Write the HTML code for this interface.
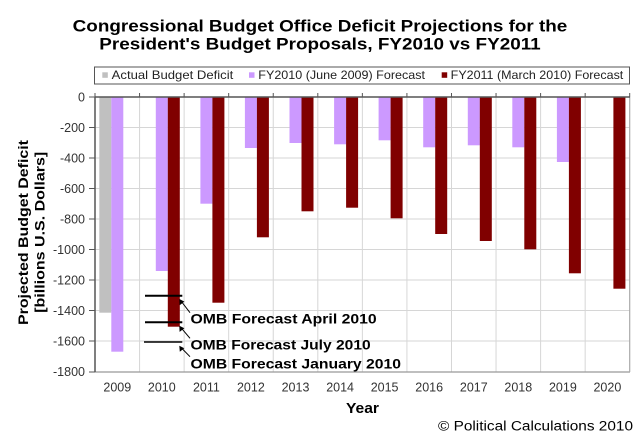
<!DOCTYPE html>
<html><head><meta charset="utf-8"><style>
html,body{margin:0;padding:0;background:#fff;}
svg{display:block;font-family:"Liberation Sans",sans-serif;}
</style></head><body>
<svg width="640" height="438" viewBox="0 0 640 438" xmlns="http://www.w3.org/2000/svg">
<rect width="640" height="438" fill="#fff"/>
<!-- Title -->
<text x="72.7" y="31.7" font-size="17" font-weight="bold" fill="#000" textLength="494.6" lengthAdjust="spacingAndGlyphs">Congressional Budget Office Deficit Projections for the</text>
<text x="99.3" y="49.5" font-size="17" font-weight="bold" fill="#000" textLength="441.4" lengthAdjust="spacingAndGlyphs">President's Budget Proposals, FY2010 vs FY2011</text>
<!-- Legend -->
<rect x="94.5" y="67" width="535" height="17" fill="#fff" stroke="#555" stroke-width="1"/>
<rect x="102.3" y="72.3" width="5.5" height="5.5" fill="#c0c0c0"/>
<text x="111.7" y="79" font-size="12" fill="#222" textLength="121.6" lengthAdjust="spacingAndGlyphs">Actual Budget Deficit</text>
<rect x="249" y="72.3" width="5.5" height="5.5" fill="#cc99ff"/>
<text x="258.3" y="79" font-size="12" fill="#222" textLength="166.7" lengthAdjust="spacingAndGlyphs">FY2010 (June 2009) Forecast</text>
<rect x="441.7" y="72.3" width="5.5" height="5.5" fill="#800000"/>
<text x="450.7" y="79" font-size="12" fill="#222" textLength="172.6" lengthAdjust="spacingAndGlyphs">FY2011 (March 2010) Forecast</text>
<!-- gridlines -->
<g stroke="#d6d6d6" stroke-width="1">
<line x1="95" y1="127.5" x2="630" y2="127.5"/>
<line x1="95" y1="158" x2="630" y2="158"/>
<line x1="95" y1="188.5" x2="630" y2="188.5"/>
<line x1="95" y1="219" x2="630" y2="219"/>
<line x1="95" y1="249.5" x2="630" y2="249.5"/>
<line x1="95" y1="280" x2="630" y2="280"/>
<line x1="95" y1="310.5" x2="630" y2="310.5"/>
<line x1="95" y1="341" x2="630" y2="341"/>
<line x1="139.56" y1="97" x2="139.56" y2="372"/>
<line x1="184.12" y1="97" x2="184.12" y2="372"/>
<line x1="228.68" y1="97" x2="228.68" y2="372"/>
<line x1="273.24" y1="97" x2="273.24" y2="372"/>
<line x1="317.8" y1="97" x2="317.8" y2="372"/>
<line x1="362.36" y1="97" x2="362.36" y2="372"/>
<line x1="406.92" y1="97" x2="406.92" y2="372"/>
<line x1="451.48" y1="97" x2="451.48" y2="372"/>
<line x1="496.04" y1="97" x2="496.04" y2="372"/>
<line x1="540.6" y1="97" x2="540.6" y2="372"/>
<line x1="585.16" y1="97" x2="585.16" y2="372"/>
</g>
<!-- plot border -->
<line x1="95" y1="372" x2="630" y2="372" stroke="#999" stroke-width="1.2"/>
<line x1="629.7" y1="97" x2="629.7" y2="372" stroke="#aaa" stroke-width="1.2"/>
<!-- bars -->
<g>
<rect x="99.3" y="97" width="12" height="215.7" fill="#c0c0c0"/>
<rect x="111.3" y="97" width="12" height="254.7" fill="#cc99ff"/>
<rect x="155.8" y="97" width="12" height="174" fill="#cc99ff"/>
<rect x="167.8" y="97" width="12" height="229.7" fill="#800000"/>
<rect x="200.4" y="97" width="12" height="106.7" fill="#cc99ff"/>
<rect x="212.4" y="97" width="12" height="205.7" fill="#800000"/>
<rect x="244.9" y="97" width="12" height="51" fill="#cc99ff"/>
<rect x="256.9" y="97" width="12" height="140.3" fill="#800000"/>
<rect x="289.5" y="97" width="12" height="46" fill="#cc99ff"/>
<rect x="301.5" y="97" width="12" height="114.3" fill="#800000"/>
<rect x="334.1" y="97" width="12" height="47.3" fill="#cc99ff"/>
<rect x="346.1" y="97" width="12" height="110.7" fill="#800000"/>
<rect x="378.6" y="97" width="12" height="43.3" fill="#cc99ff"/>
<rect x="390.6" y="97" width="12" height="121.3" fill="#800000"/>
<rect x="423.2" y="97" width="12" height="50.3" fill="#cc99ff"/>
<rect x="435.2" y="97" width="12" height="137" fill="#800000"/>
<rect x="467.8" y="97" width="12" height="48.3" fill="#cc99ff"/>
<rect x="479.8" y="97" width="12" height="144" fill="#800000"/>
<rect x="512.3" y="97" width="12" height="50.3" fill="#cc99ff"/>
<rect x="524.3" y="97" width="12" height="152.3" fill="#800000"/>
<rect x="556.9" y="97" width="12" height="65" fill="#cc99ff"/>
<rect x="568.9" y="97" width="12" height="176.3" fill="#800000"/>
<rect x="613.4" y="97" width="12" height="191.7" fill="#800000"/>
</g>
<!-- axes -->
<line x1="95" y1="97" x2="630" y2="97" stroke="#555" stroke-width="1.5"/>
<line x1="95" y1="97" x2="95" y2="372" stroke="#555" stroke-width="1.5"/>
<g stroke="#555" stroke-width="1">
<line x1="95" y1="93" x2="95" y2="97"/>
<line x1="139.56" y1="93" x2="139.56" y2="97"/>
<line x1="184.12" y1="93" x2="184.12" y2="97"/>
<line x1="228.68" y1="93" x2="228.68" y2="97"/>
<line x1="273.24" y1="93" x2="273.24" y2="97"/>
<line x1="317.8" y1="93" x2="317.8" y2="97"/>
<line x1="362.36" y1="93" x2="362.36" y2="97"/>
<line x1="406.92" y1="93" x2="406.92" y2="97"/>
<line x1="451.48" y1="93" x2="451.48" y2="97"/>
<line x1="496.04" y1="93" x2="496.04" y2="97"/>
<line x1="540.6" y1="93" x2="540.6" y2="97"/>
<line x1="585.16" y1="93" x2="585.16" y2="97"/>
<line x1="629.7" y1="93" x2="629.7" y2="97"/>
<line x1="89" y1="97" x2="95" y2="97"/>
<line x1="89" y1="127.5" x2="95" y2="127.5"/>
<line x1="89" y1="158" x2="95" y2="158"/>
<line x1="89" y1="188.5" x2="95" y2="188.5"/>
<line x1="89" y1="219" x2="95" y2="219"/>
<line x1="89" y1="249.5" x2="95" y2="249.5"/>
<line x1="89" y1="280" x2="95" y2="280"/>
<line x1="89" y1="310.5" x2="95" y2="310.5"/>
<line x1="89" y1="341" x2="95" y2="341"/>
<line x1="89" y1="372" x2="95" y2="372"/>
</g>
<!-- y labels -->
<g font-size="12.5" fill="#333" text-anchor="end">
<text x="85" y="101.5">0</text>
<text x="85" y="132">-200</text>
<text x="85" y="162.5">-400</text>
<text x="85" y="193">-600</text>
<text x="85" y="223.5">-800</text>
<text x="85" y="254">-1000</text>
<text x="85" y="284.5">-1200</text>
<text x="85" y="315">-1400</text>
<text x="85" y="345.5">-1600</text>
<text x="85" y="376">-1800</text>
</g>
<!-- x labels -->
<g font-size="12.5" fill="#333" text-anchor="middle">
<text x="117.3" y="391.7">2009</text>
<text x="161.8" y="391.7">2010</text>
<text x="206.4" y="391.7">2011</text>
<text x="250.9" y="391.7">2012</text>
<text x="295.5" y="391.7">2013</text>
<text x="340.1" y="391.7">2014</text>
<text x="384.6" y="391.7">2015</text>
<text x="429.2" y="391.7">2016</text>
<text x="473.8" y="391.7">2017</text>
<text x="518.3" y="391.7">2018</text>
<text x="562.9" y="391.7">2019</text>
<text x="607.4" y="391.7">2020</text>
</g>
<!-- axis titles -->
<text x="362.5" y="413" font-size="15" font-weight="bold" fill="#000" text-anchor="middle" textLength="33" lengthAdjust="spacingAndGlyphs">Year</text>
<text transform="translate(28,232.5) rotate(-90)" font-size="13.5" font-weight="bold" fill="#000" text-anchor="middle" textLength="185" lengthAdjust="spacingAndGlyphs">Projected Budget Deficit</text>
<text transform="translate(44.5,232.3) rotate(-90)" font-size="13.5" font-weight="bold" fill="#000" text-anchor="middle" textLength="161" lengthAdjust="spacingAndGlyphs">[billions U.S. Dollars]</text>
<!-- annotations -->
<g stroke="#000">
<line x1="145" y1="295.7" x2="182.3" y2="295.7" stroke-width="2"/>
<line x1="145" y1="322.3" x2="182.3" y2="322.3" stroke-width="2"/>
<line x1="144" y1="342" x2="182.3" y2="342" stroke-width="1.4"/>
<line x1="190" y1="312.7" x2="181" y2="301" stroke-width="1"/>
<line x1="190" y1="338.3" x2="181" y2="327.7" stroke-width="1"/>
<line x1="190" y1="356.7" x2="181" y2="347.5" stroke-width="1"/>
</g>
<g fill="#000">
<polygon points="179.3,299 179.6,305.2 184.4,301.6"/>
<polygon points="179.3,325.7 179.6,331.9 184.4,328.3"/>
<polygon points="179.3,345.7 179.8,351.7 184.3,348.3"/>
</g>
<g font-size="14" font-weight="bold" fill="#000">
<text x="190.5" y="323.3" textLength="186.2" lengthAdjust="spacingAndGlyphs">OMB Forecast April 2010</text>
<text x="190.5" y="349.3" textLength="180.2" lengthAdjust="spacingAndGlyphs">OMB Forecast July 2010</text>
<text x="190.5" y="368.3" textLength="210.5" lengthAdjust="spacingAndGlyphs">OMB Forecast January 2010</text>
</g>
<!-- copyright -->
<text x="438" y="430.7" font-size="13.5" fill="#000" textLength="195" lengthAdjust="spacingAndGlyphs">© Political Calculations 2010</text>
</svg>
</body></html>
